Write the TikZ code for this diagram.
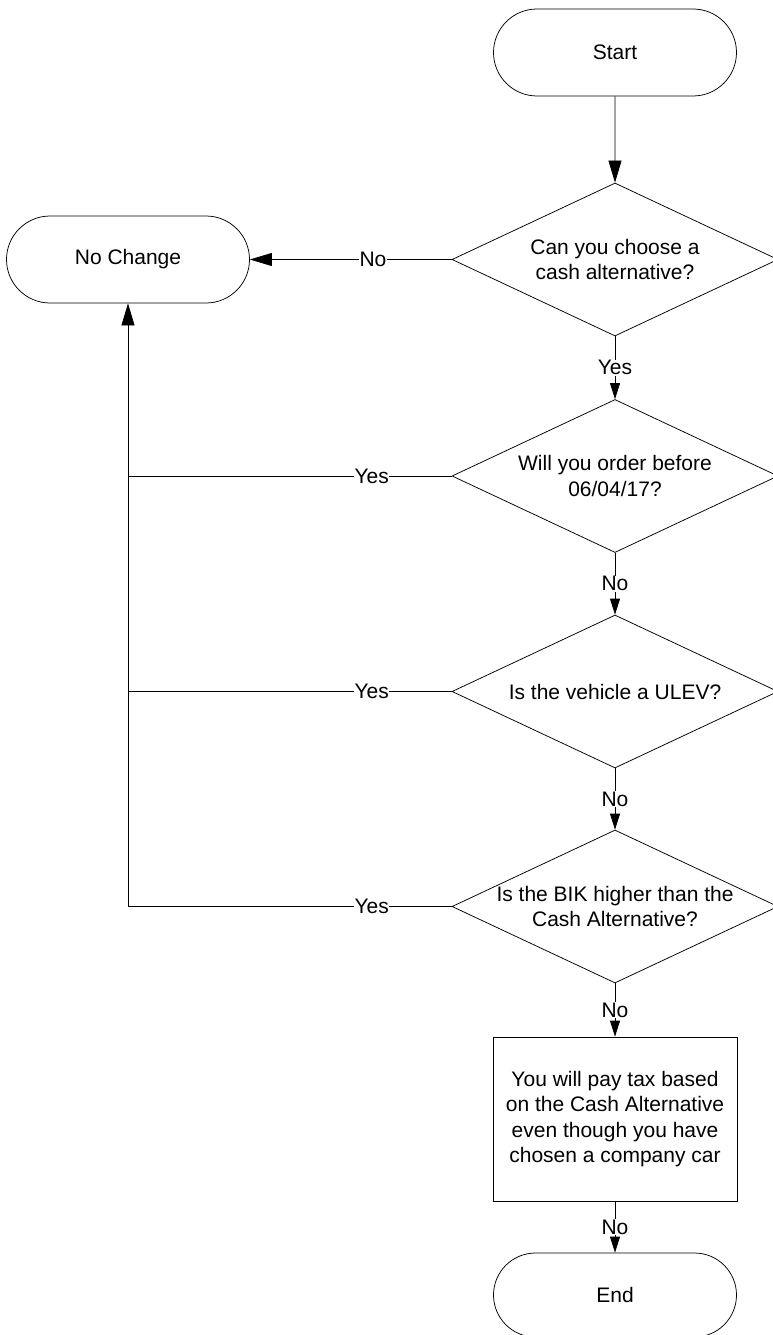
\documentclass[tikz,border=0pt]{standalone}
\usepackage{fontspec}
\setmainfont{Liberation Sans}
\usetikzlibrary{shapes.geometric,shapes.misc,arrows.meta}
\tikzset{
  terminal/.style={draw,rounded rectangle,minimum width=243pt,minimum height=87pt,inner sep=0pt},
  decision/.style={draw,diamond,shape aspect=2.13,minimum width=326pt,minimum height=153pt,
    inner xsep=-10pt,inner ysep=0pt,align=center},
  process/.style={draw,rectangle,minimum width=244pt,minimum height=164pt,inner sep=0pt,align=center},
  lbl/.style={fill=white,inner sep=0.5pt},
  bigarrow/.style={-{Triangle[length=22pt,width=13pt]}},
  smallarrow/.style={-{Triangle[length=16pt,width=10pt]}}
}
\begin{document}
\begin{tikzpicture}[x=1pt,y=-1pt,line width=0.75pt,
    every node/.style={font=\fontsize{21}{25.5}\selectfont}]
  \useasboundingbox (0,0) rectangle (773,1335);

  \node[terminal] (start) at (615,52.5) {Start};
  \node[terminal] (nochange) at (128,259.5) {No Change};
  \node[decision] (d1) at (615,259.5) {Can you choose a\\cash alternative?};
  \node[decision] (d2) at (615,476) {Will you order before\\06/04/17?};
  \node[decision] (d3) at (615,691.5) {Is the vehicle a ULEV?};
  \node[decision] (d4) at (615,906.5) {Is the BIK higher than the\\Cash Alternative?};
  \node[process] (box) at (615,1119) {You will pay tax based\\on the Cash Alternative\\even though you have\\chosen a company car};
  \node[terminal,minimum height=84pt] (end) at (615,1295) {End};

  \draw[bigarrow] (start) -- (d1);
  \draw[bigarrow] (d1.west) -- node[lbl,pos=0.39]{No} (nochange.east);
  \draw[smallarrow] (d1.south) -- node[lbl]{Yes} (d2.north);
  \foreach \a/\b in {d2/d3,d3/d4,d4/box,box/end}
    \draw[smallarrow] (\a.south) -- node[lbl]{No} (\b.north);

  % yes branches back to no change
  \foreach \i in {2,3,4}
    \coordinate (j\i) at (nochange.south |- d\i.west);
  \foreach \i in {2,3}
    \draw (d\i.west) -- node[lbl,pos=0.247]{Yes} (j\i);
  \draw[bigarrow] (d4.west) -- node[lbl,pos=0.247]{Yes} (j4) -- (nochange.south);
\end{tikzpicture}
\end{document}
